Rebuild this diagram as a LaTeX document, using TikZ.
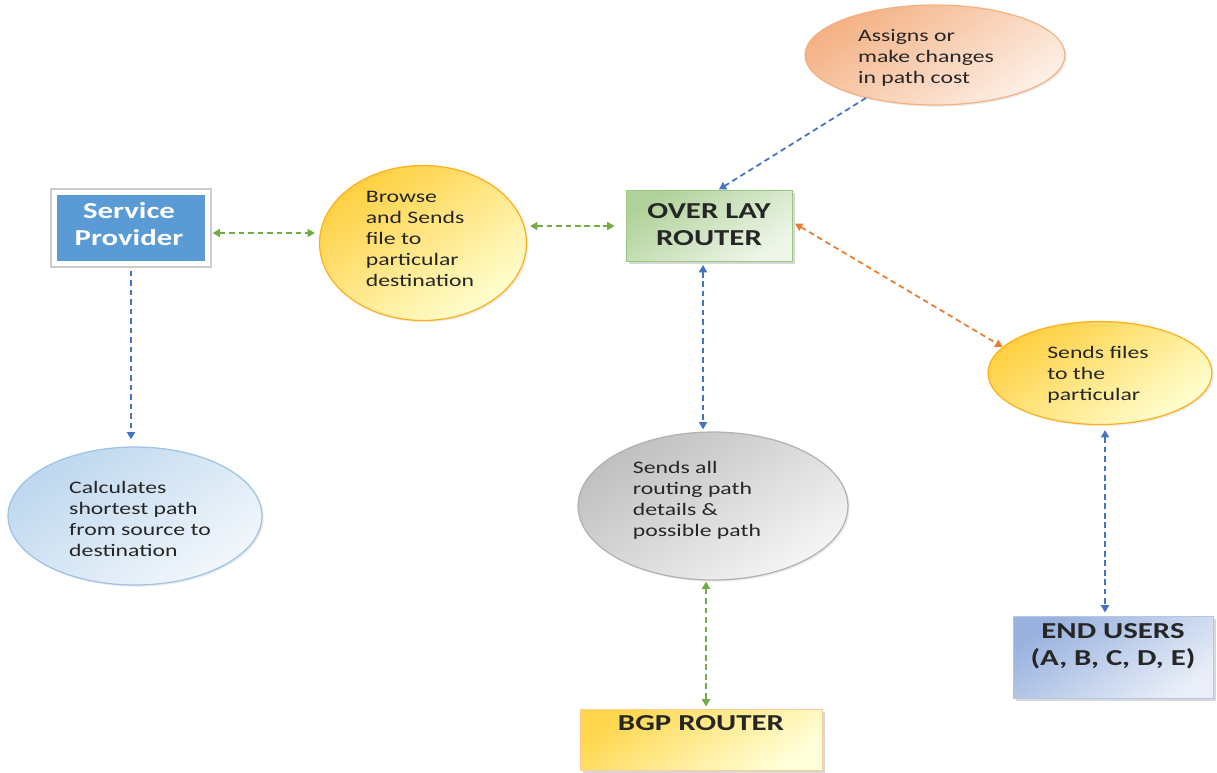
\documentclass[tikz,border=0pt]{standalone}
\usepackage{fontspec}
\setmainfont[FakeStretch=1.35]{Carlito}
\usetikzlibrary{arrows.meta,shapes.geometric,shadows}

\definecolor{spblue}{HTML}{5B9BD5}
\definecolor{lnGreen}{HTML}{70AD47}
\definecolor{lnBlue}{HTML}{4472C4}
\definecolor{lnOrange}{HTML}{ED7D31}

\tikzset{
  box/.style={rectangle, inner sep=0pt, line width=0.5pt,
    drop shadow={shadow xshift=1.6pt, shadow yshift=-1.6pt, fill=black!30}},
  bubble/.style={ellipse, inner sep=0pt, line width=0.7pt,
    drop shadow={shadow xshift=1pt, shadow yshift=-1pt, fill=black!15}},
  btext/.style={align=left, inner sep=0pt, font=\fontsize{10}{12}\selectfont, text=black!85},
  ltext/.style={align=center, inner sep=0pt, font=\fontsize{13}{15.3}\selectfont\bfseries, text=black!85},
  tip/.tip={Triangle[length=4.2pt,width=4.6pt]},
  link/.style={line width=1pt, dash pattern=on 3.2pt off 2.2pt},
  both/.style={link, tip-tip},
  oneway/.style={link, -tip}
}

\begin{document}
\begin{tikzpicture}[x=0.02cm, y=-0.02cm]
  \useasboundingbox (0,0) rectangle (1217,772);

  % rectangular boxes
  \node[rectangle, inner sep=0pt, fill=spblue, draw=white, line width=2.5pt,
        preaction={draw=black!20, line width=5pt},
        minimum width=3.06cm, minimum height=1.42cm] (sp) at (131,228) {};
  \node[ltext, text=white] (spt) at (129,224) {Service\\Provider};

  \node[box, draw=lnGreen!70, top color=lnGreen!55, bottom color=lnGreen!12, shading angle=35,
        minimum width=3.32cm, minimum height=1.42cm] (ov) at (709,226) {};
  \node[ltext] (ovt) at (709,225) {OVER LAY\\ROUTER};

  \node[box, draw=orange!40, top color=yellow!55!orange!70, bottom color=yellow!15, shading angle=35,
        minimum width=4.84cm, minimum height=1.22cm] (bgp) at (701,739.5) {};
  \node[ltext] (bgpt) at (701,723) {BGP ROUTER};

  \node[box, draw=lnBlue!40, top color=lnBlue!55, bottom color=lnBlue!12, shading angle=35,
        minimum width=4.0cm, minimum height=1.64cm] (eu) at (1113,657) {};
  \node[ltext] (eut) at (1113,646) {END USERS\\(A, B, C, D, E)};

  % elliptic bubbles
  \node[bubble, draw=orange!70!yellow!90, top color=yellow!50!orange!75, bottom color=yellow!18, shading angle=35,
        minimum width=4.14cm, minimum height=3.10cm] (br) at (423,243) {};
  \node[btext] (brt) at (420,239) {Browse\\and Sends\\file to\\particular\\destination};

  \node[bubble, draw=lnOrange!60, top color=lnOrange!60, bottom color=lnOrange!12, shading angle=35,
        minimum width=5.2cm, minimum height=2.0cm] (as) at (935,55) {};
  \node[btext] (ast) at (926,58) {Assigns or\\make changes\\in path cost};

  \node[bubble, draw=orange!70!yellow!90, top color=yellow!50!orange!75, bottom color=yellow!18, shading angle=35,
        minimum width=4.48cm, minimum height=2.06cm] (sf) at (1100,373) {};
  \node[btext] (sft) at (1098,375) {Sends files\\to the\\particular};

  \node[bubble, draw=spblue!60, top color=spblue!40, bottom color=spblue!8, shading angle=35,
        minimum width=5.08cm, minimum height=2.76cm] (calc) at (135,516) {};
  \node[btext] (calct) at (140,519) {Calculates\\shortest path\\from source to\\destination};

  \node[bubble, draw=black!30, top color=black!25, bottom color=black!4, shading angle=35,
        minimum width=5.4cm, minimum height=2.96cm] (sa) at (713,506) {};
  \node[btext] (sat) at (697,500) {Sends all\\routing path\\details \&\\possible path};

  % connectors
  \draw[both, lnGreen, shorten <=0.06cm, shorten >=0.08cm]
    ([yshift=-0.1cm]sp.east) -- ([yshift=-0.1cm]sp.east -| br.west);
  \draw[both, lnGreen, shorten <=0.06cm, shorten >=0.22cm]
    (br.east |- ov.west) -- (ov.west);
  \draw[oneway, lnBlue, shorten >=0.02cm]
    (as) -- ([xshift=0.18cm]ov.north);
  \draw[both, lnOrange, shorten <=0.06cm]
    ([yshift=0.08cm]ov.east) -- (sf.165);
  \draw[both, lnBlue, shorten <=0.06cm, shorten >=0.04cm]
    ([xshift=-0.12cm]ov.south) -- ([xshift=-0.12cm]ov.south |- sa.north);
  \draw[oneway, lnBlue, shorten <=0.1cm, shorten >=0.14cm]
    (sp.south) -- (sp.south |- calc.north);
  \draw[both, lnGreen, shorten <=0.02cm, shorten >=0.04cm]
    ([xshift=-0.14cm]sa.south) -- ([xshift=-0.14cm]sa.south |- bgp.north);
  \draw[both, lnBlue, shorten <=0.1cm, shorten >=0.06cm]
    ([xshift=0.1cm]sf.south) -- ([xshift=0.1cm]sf.south |- eu.north);
\end{tikzpicture}
\end{document}
